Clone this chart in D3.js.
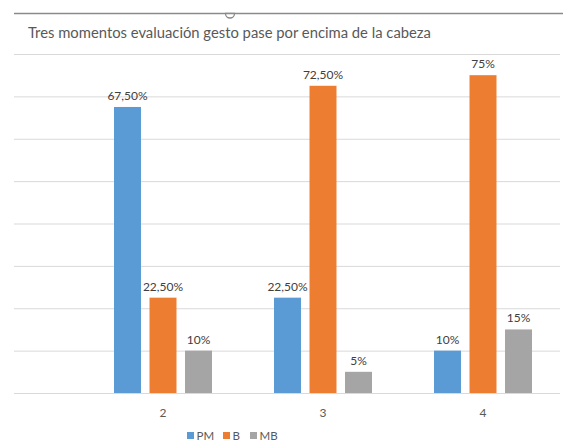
<!DOCTYPE html>
<html>
<head>
<meta charset="utf-8">
<script src="https://cdn.jsdelivr.net/npm/d3@7"></script>
<style>
  html, body { margin: 0; padding: 0; background: #fff; }
  svg { display: block; font-family: Lato, "Open Sans", sans-serif; }
</style>
</head>
<body>
<svg id="chart" width="563" height="444"></svg>
<script>
// Evaluation moments and rating shares
const categories = ["2", "3", "4"];
const series = ["PM", "B", "MB"];
const valuesPM = [0.675, 0.225, 0.10];
const valuesB = [0.225, 0.725, 0.75];
const valuesMB = [0.10, 0.05, 0.15];
const yTicks = [0, 0.1, 0.2, 0.3, 0.4, 0.5, 0.6, 0.7, 0.8];
const colors = ["#5B9BD5", "#ED7D31", "#A5A5A5"];
const title = "Tres momentos evaluación gesto pase por encima de la cabeza";

const table = categories.map((c, i) => ({
  cat: c,
  vals: [valuesPM[i], valuesB[i], valuesMB[i]].map((v, j) => ({ key: series[j], value: v }))
}));

const svg = d3.select("#chart");

// frame line with handle on top
svg.append("line")
  .attr("x1", 14).attr("x2", 563).attr("y1", 13.5).attr("y2", 13.5)
  .attr("stroke", "#8a8a8a").attr("stroke-width", 1.5);
svg.append("path")
  .attr("d", d3.arc()({ innerRadius: 0, outerRadius: 4.5, startAngle: Math.PI / 2, endAngle: Math.PI * 1.5 }))
  .attr("transform", "translate(230,13.5)")
  .attr("fill", "#fff").attr("stroke", "#8a8a8a").attr("stroke-width", 1.3);

svg.append("text")
  .attr("x", 28).attr("y", 38)
  .attr("font-size", 14.8).attr("fill", "#595959")
  .text(title);

const plotLeft = 14, plotRight = 560;
const y = d3.scaleLinear().domain([0, 0.8]).range([393, 54]);
const x0 = d3.scaleBand().domain(categories).range([83, 563])
  .paddingInner(0.3875).paddingOuter(0.19375);
const x1 = d3.scaleBand().domain(series).range([0, x0.bandwidth()]).paddingInner(0.24);

// horizontal gridlines
svg.append("g")
  .attr("transform", `translate(${plotLeft},0)`)
  .call(d3.axisLeft(y).tickValues(yTicks).tickSize(-(plotRight - plotLeft)).tickFormat(""))
  .call(g => g.select(".domain").remove())
  .call(g => g.selectAll(".tick line").attr("stroke", "#d9d9d9").attr("stroke-width", 1));

// bars
const groups = svg.append("g").selectAll("g")
  .data(table).join("g")
  .attr("transform", d => `translate(${x0(d.cat)},0)`);

groups.selectAll("rect")
  .data(d => d.vals).join("rect")
  .attr("x", d => x1(d.key))
  .attr("width", x1.bandwidth())
  .attr("y", d => y(d.value))
  .attr("height", d => y(0) - y(d.value))
  .attr("fill", (d, i) => colors[i]);

// value labels in Spanish notation
const fmt = v => {
  const p = Math.round(v * 10000) / 100;
  return Number.isInteger(p) ? `${p}%` : `${p.toFixed(2).replace(".", ",")}%`;
};
groups.selectAll("text.lbl")
  .data(d => d.vals).join("text")
  .attr("class", "lbl")
  .attr("x", d => x1(d.key) + x1.bandwidth() / 2)
  .attr("y", d => y(d.value) - 7)
  .attr("text-anchor", "middle")
  .attr("font-size", 12).attr("fill", "#404040")
  .text(d => fmt(d.value));

// category axis
svg.append("g")
  .attr("transform", `translate(0,${y(0)})`)
  .call(d3.axisBottom(x0).tickSize(0).tickPadding(15))
  .call(g => g.select(".domain").remove())
  .call(g => g.selectAll("text").attr("font-size", 12).attr("fill", "#595959")
    .attr("font-family", "Lato, 'Open Sans', sans-serif"));

// legend
const legendX = [187, 223, 250];
const legend = svg.append("g").selectAll("g")
  .data(series).join("g")
  .attr("transform", (d, i) => `translate(${legendX[i]},435.5)`);
legend.append("rect")
  .attr("x", 0).attr("y", -3.5).attr("width", 7).attr("height", 7)
  .attr("fill", (d, i) => colors[i]);
legend.append("text")
  .attr("x", 9.5).attr("y", 4.2)
  .attr("font-size", 11.5).attr("fill", "#595959")
  .text(d => d);
</script>
</body>
</html>
